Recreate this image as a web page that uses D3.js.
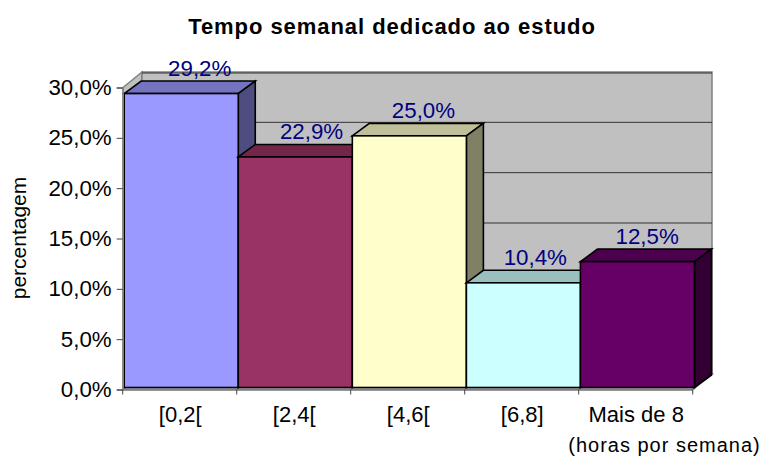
<!DOCTYPE html>
<html><head><meta charset="utf-8">
<script src="https://cdn.jsdelivr.net/npm/d3@7"></script>
<style>
html,body{margin:0;padding:0;background:#fff}
svg{display:block}
text{font-family:"Liberation Sans",Arial,sans-serif}
</style></head><body><svg id="c" width="765" height="457"></svg>
<script>
const categories = ["[0,2[", "[2,4[", "[4,6[", "[6,8]", "Mais de 8"];
const values = [29.2, 22.9, 25.0, 10.4, 12.5];
const valueLabels = ["29,2%", "22,9%", "25,0%", "10,4%", "12,5%"];
const yTicks = [0, 5, 10, 15, 20, 25, 30];
const yTickLabels = ["0,0%", "5,0%", "10,0%", "15,0%", "20,0%", "25,0%", "30,0%"];
const frontColors = ["#9999FF", "#993366", "#FFFFCC", "#CCFFFF", "#660066"];
const topColors = ["#7373BF", "#732649", "#BFBF99", "#99BFBF", "#4D004D"];
const sideColors = ["#4D4D80", "#4D1A33", "#808066", "#668080", "#330033"];
const titleText = "Tempo semanal dedicado ao estudo";
const yAxisTitle = "percentagem";
const xNote = "(horas por semana)";

const svg = d3.select("#c");
const dx = 17, dy = 12.5;
const wx = 19, wy = 15.5;
const y = d3.scaleLinear().domain([0, 30]).range([389.5, 87.5]);
const yBar = d3.scaleLinear().domain([0, 30]).range([387.5, 85.5]);
const x = d3.scaleBand().domain(categories).range([122.7, 692.7]);
const xBar = d3.scaleBand().domain(categories).range([124.2, 694.5]);
const poly = pts => pts.map(p => p.join(",")).join(" ");

// walls
const xL = 123, xR = 693, y0 = y(0), yT = y(30);
const wall = pts => svg.append("polygon").attr("points", poly(pts))
  .attr("fill","#C0C0C0").attr("stroke","#808080").attr("stroke-width",1.5);
wall([[xL,yT],[xL+wx,yT-wy],[xL+wx,y0-wy],[xL,y0]]);
wall([[xL+wx,yT-wy],[xR+wx,yT-wy],[xR+wx,y0-wy],[xL+wx,y0-wy]]);
wall([[xL,y0],[xL+wx,y0-wy],[xR+wx,y0-wy],[xR,y0]]);

// gridlines on the back wall
svg.append("g").selectAll("line").data(yTicks.slice(1)).join("line")
  .attr("x1", xL+wx).attr("x2", xR+wx)
  .attr("y1", d => y(d)-wy+(d===30?1:0)).attr("y2", d => y(d)-wy+(d===30?1:0))
  .attr("stroke", "#333").attr("stroke-width", 1);

// bars
const bars = svg.append("g").selectAll("g").data(values).join("g");
const bw = xBar.bandwidth();
bars.append("polygon").attr("points", (d,i) => {
  const a = xBar(categories[i]), t = yBar(d);
  return poly([[a,t],[a+dx,t-dy],[a+bw+dx,t-dy],[a+bw,t]]);
}).attr("fill",(d,i)=>topColors[i]);
bars.append("polygon").attr("points", (d,i) => {
  const a = xBar(categories[i])+bw, t = yBar(d), b = yBar(0);
  return poly([[a,t],[a+dx,t-dy],[a+dx,b-dy],[a,b]]);
}).attr("fill",(d,i)=>sideColors[i]);
bars.append("rect")
  .attr("x",(d,i)=>xBar(categories[i])).attr("y",d=>yBar(d))
  .attr("width",bw).attr("height",d=>yBar(0)-yBar(d))
  .attr("fill",(d,i)=>frontColors[i]);
bars.selectAll("polygon,rect").attr("stroke","#000").attr("stroke-width",1.6).attr("stroke-linejoin","miter");

// axes
const axisLeft = d3.axisLeft(y).tickValues(yTicks).tickFormat((d,i)=>yTickLabels[i]).tickSize(6).tickPadding(5);
const gy = svg.append("g").attr("transform",`translate(${xL-0.3},0)`).call(axisLeft);
const gx = svg.append("g").attr("transform",`translate(0,${y0})`).call(d3.axisBottom(x).tickValues(categories).tickSize(0).tickFormat(""));
gx.selectAll(".tick").remove();
svg.append("g").selectAll("line").data(d3.range(categories.length+1)).join("line")
  .attr("x1",i=>x.range()[0]+i*x.step()).attr("x2",i=>x.range()[0]+i*x.step())
  .attr("y1",y0).attr("y2",y0+5).attr("stroke","#444").attr("stroke-width",1);
gy.select(".domain").attr("stroke","#808080").attr("stroke-width",1.5);
gx.select(".domain").attr("stroke","#808080").attr("stroke-width",1.5);
gy.selectAll(".tick line").attr("stroke","#444").attr("stroke-width",1);
gy.selectAll(".tick text").attr("font-size",22.3).attr("fill","#000")
  .attr("font-family","Liberation Sans").attr("dy","0.32em");

svg.append("g").selectAll("text").data(categories).join("text")
  .attr("x",c=>x(c)+x.bandwidth()/2+0.5).attr("y",421.5)
  .attr("text-anchor","middle").attr("font-size",22).attr("fill","#000").text(c=>c);

svg.append("g").selectAll("text").data(values).join("text")
  .attr("x",(d,i)=>xBar(categories[i])+bw/2+18.5-2.2*i).attr("y",d=>yBar(d)-18)
  .attr("text-anchor","middle").attr("font-size",22.3).attr("fill","#000080")
  .text((d,i)=>valueLabels[i]);

svg.append("text").attr("x",392).attr("y",34).attr("text-anchor","middle")
  .attr("font-size",22).attr("font-weight","bold").attr("letter-spacing",0.95).text(titleText);
svg.append("text").attr("transform","translate(26,238) rotate(-90)").attr("text-anchor","middle")
  .attr("font-size",21).attr("fill","#000").text(yAxisTitle);
svg.append("text").attr("x",664.5).attr("y",452).attr("text-anchor","middle")
  .attr("font-size",20).attr("letter-spacing",1).attr("fill","#000").text(xNote);
</script></body></html>
